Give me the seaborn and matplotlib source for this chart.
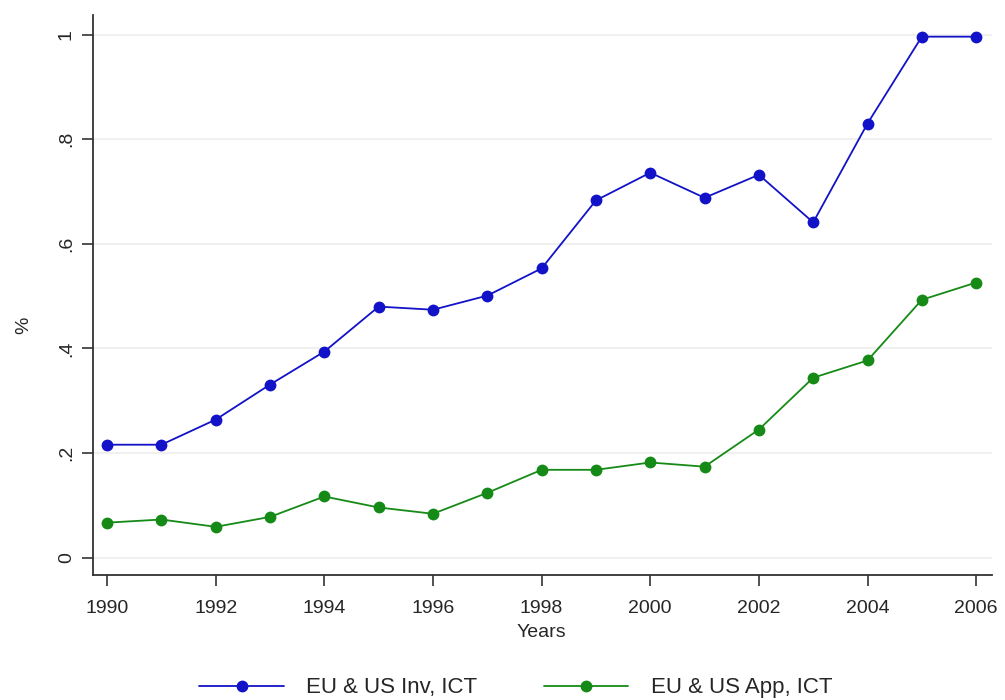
import matplotlib
matplotlib.use("Agg")
import matplotlib.pyplot as plt
import seaborn as sns
import pandas as pd

# values
years = list(range(1990, 2007))
inv_ict = [0.216, 0.216, 0.264, 0.331, 0.394, 0.480, 0.474, 0.501, 0.553,
           0.683, 0.736, 0.688, 0.732, 0.641, 0.830, 0.996, 0.996]
app_ict = [0.067, 0.073, 0.059, 0.078, 0.117, 0.096, 0.084, 0.124, 0.168,
           0.168, 0.182, 0.174, 0.245, 0.344, 0.377, 0.493, 0.526]
series_names = ["EU & US Inv, ICT", "EU & US App, ICT"]
y_ticks = [0, 0.2, 0.4, 0.6, 0.8, 1]
y_labels = ["0", ".2", ".4", ".6", ".8", "1"]
x_ticks = list(range(1990, 2007, 2))

df = pd.concat([
    pd.DataFrame({"Years": years, "value": inv_ict, "series": series_names[0]}),
    pd.DataFrame({"Years": years, "value": app_ict, "series": series_names[1]}),
])

sns.set_style("white")
plt.rcParams["font.family"] = ["Liberation Sans", "DejaVu Sans"]

fig = plt.figure(figsize=(10.05, 7.0), dpi=100)
ax = fig.add_axes([0.0925, 0.179, 0.895, 0.800])

palette = {series_names[0]: "#1212c8", series_names[1]: "#168a16"}
sns.lineplot(data=df, x="Years", y="value", hue="series", palette=palette,
             marker="o", markersize=8.5, markeredgewidth=0, linewidth=1.3,
             ax=ax)

ax.set_xlim(1989.74, 2006.3)
ax.set_ylim(-0.0325, 1.038)
ax.set_xticks(x_ticks)
ax.set_xticklabels([str(x) for x in x_ticks], fontsize=14)
ax.set_yticks(y_ticks)
ax.set_yticklabels(y_labels, fontsize=14, rotation=90, va="center")
ax.tick_params(axis="x", direction="out", length=8, width=1.2,
               color="#333333", pad=10, bottom=True)
ax.tick_params(axis="y", direction="out", length=8, width=1.2,
               color="#333333", pad=5, left=True)

ax.yaxis.grid(True, color="#f0f0f0", linewidth=1.5)
ax.xaxis.grid(False)
for side in ["top", "right"]:
    ax.spines[side].set_visible(False)
for side in ["left", "bottom"]:
    ax.spines[side].set_color("#333333")
    ax.spines[side].set_linewidth(1.3)

ax.set_xlabel("Years", fontsize=14)
ax.xaxis.set_label_coords(0.498, -0.088)
ax.set_ylabel("%", fontsize=14)
ax.yaxis.set_label_coords(-0.068, 0.446)

ax.legend(title=None, loc="center", bbox_to_anchor=(0.47, -0.202),
          ncol=2, frameon=False, fontsize=16, handlelength=3.8,
          columnspacing=3.0, handletextpad=1.0)

fig.savefig("out.png", dpi=100)
